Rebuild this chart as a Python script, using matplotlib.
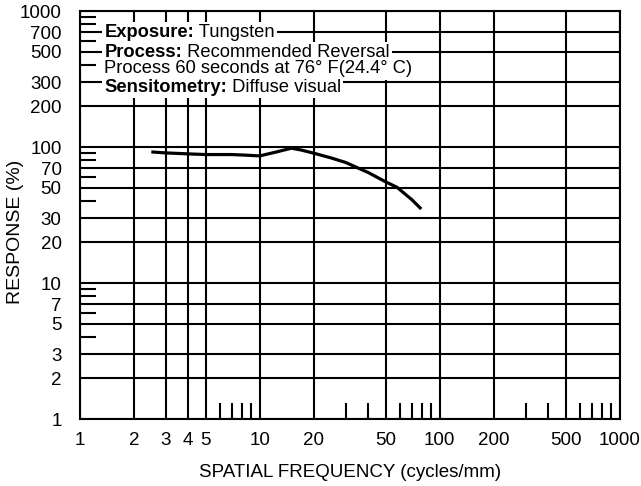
import matplotlib
matplotlib.use("Agg")
import matplotlib.pyplot as plt
from matplotlib.ticker import FixedLocator, NullFormatter
from matplotlib.offsetbox import TextArea, HPacker, AnnotationBbox

plt.rcParams['font.family'] = ['Liberation Sans', 'DejaVu Sans']

# Data
freq = [2.5, 3.0, 4.0, 5.0, 7.0, 8.5, 10.0, 12.4, 15.0, 17.0, 20.0, 25.0, 30.0, 40.0, 50.0, 58.0, 70.0, 79.0]
response = [92, 90.5, 89, 88, 88, 87, 86, 92, 98, 95, 90, 83, 77, 65, 55.5, 50.5, 41, 35]

x_grid = [1, 2, 3, 4, 5, 10, 20, 50, 100, 200, 500, 1000]
x_labels = ['1', '2', '3', '4', '5', '10', '20', '50', '100', '200', '500', '1000']
x_minor = [6, 7, 8, 9, 30, 40, 60, 70, 80, 90, 300, 400, 600, 700, 800, 900]
y_grid = [1, 2, 3, 5, 7, 10, 20, 30, 50, 70, 100, 200, 300, 500, 700, 1000]
y_labels = ['1', '2', '3', '5', '7', '10', '20', '30', '50', '70', '100', '200', '300', '500', '700', '1000']
y_minor = [4, 6, 8, 9, 40, 60, 80, 90, 400, 600, 800, 900]

W, H = 641, 486
fig = plt.figure(figsize=(W / 100, H / 100), dpi=100)
ax = fig.add_axes([79.7 / W, 1 - 419 / H, 540 / W, 408 / H])
ax.set_xscale('log')
ax.set_yscale('log')
ax.set_xlim(1, 1000)
ax.set_ylim(1, 1000)

lw = 1.5
fs_tick = 13.5
ax.xaxis.set_major_locator(FixedLocator(x_grid))
ax.set_xticklabels(x_labels)
ax.yaxis.set_major_locator(FixedLocator(y_grid))
ax.set_yticklabels(y_labels)
ax.xaxis.set_minor_locator(FixedLocator(x_minor))
ax.yaxis.set_minor_locator(FixedLocator(y_minor))
ax.xaxis.set_minor_formatter(NullFormatter())
ax.yaxis.set_minor_formatter(NullFormatter())
ax.tick_params(which='major', length=0, labelsize=fs_tick)
ax.tick_params(axis='x', which='major', pad=9)
ax.tick_params(axis='y', which='major', pad=13)
ax.tick_params(which='minor', direction='in', length=11.5, width=lw, color='black')
ax.grid(True, which='major', color='black', linewidth=lw, zorder=1)
ax.set_axisbelow(True)
for s in ax.spines.values():
    s.set_linewidth(lw)
    s.set_zorder(1)

ax.plot(freq, response, color='black', linewidth=2.3, zorder=3, solid_capstyle='butt')

# Annotation block
fs = 13.2
x0 = 1.37
rows = [
    (690, 'Exposure:', ' Tungsten'),
    (495, 'Process:', ' Recommended Reversal'),
    (375, None, 'Process 60 seconds at 76\u00b0 F(24.4\u00b0 C)'),
    (272, 'Sensitometry:', ' Diffuse visual'),
]
for yv, bold, reg in rows:
    parts = []
    if bold is not None:
        parts.append(TextArea(bold, textprops=dict(fontsize=fs, fontweight='bold')))
    parts.append(TextArea(reg, textprops=dict(fontsize=fs)))
    pack = HPacker(children=parts, align='baseline', pad=0, sep=0)
    ab = AnnotationBbox(pack, (x0, yv), xycoords='data', box_alignment=(0, 0.5),
                        frameon=True, pad=0.15,
                        bboxprops=dict(facecolor='white', edgecolor='none', boxstyle='square,pad=0.15'),
                        zorder=4)
    ax.add_artist(ab)

fig.text(350 / W, 1 - 472 / H, 'SPATIAL FREQUENCY (cycles/mm)', fontsize=13.5,
         ha='center', va='center')
fig.text(16 / W, 1 - 232 / H, 'RESPONSE (%)', fontsize=14, rotation=90,
         ha='center', va='center')

fig.savefig('out.png', dpi=100)
